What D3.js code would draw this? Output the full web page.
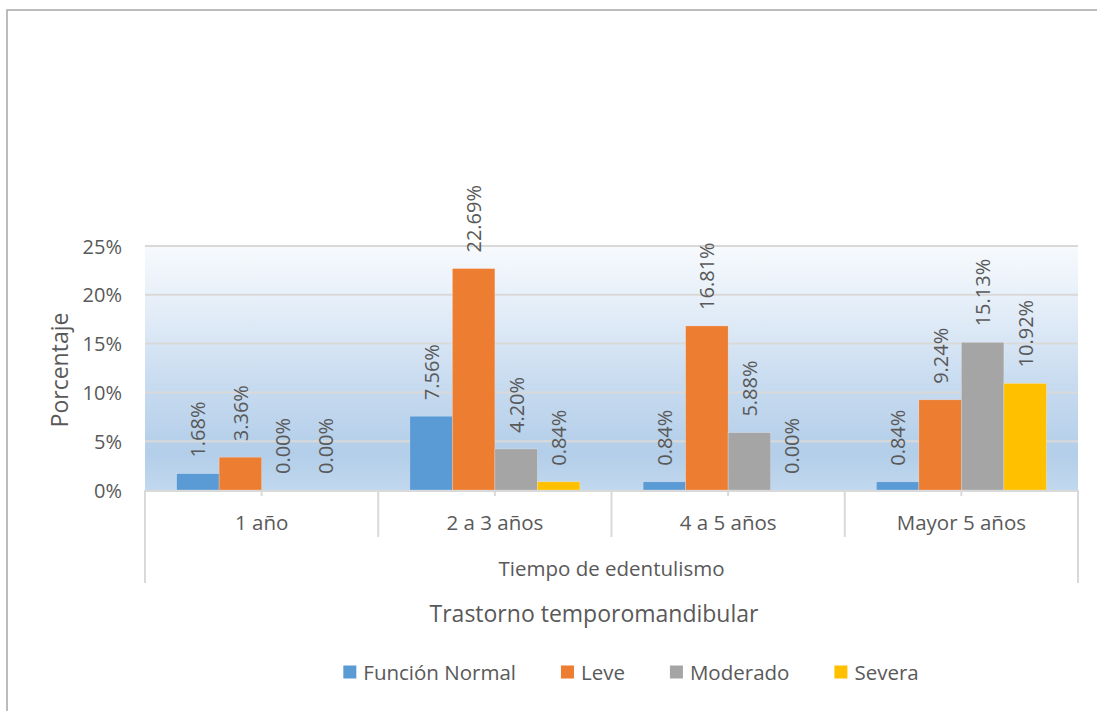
<html>
<head>
<meta charset="utf-8">
<script src="https://d3js.org/d3.v7.min.js"></script>
<style>
  body { margin: 0; background: #fff; }
  text { font-family: "Open Sans", sans-serif; fill: #595959; }
</style>
</head>
<body>
<div id="chart"></div>
<script>
// data
const categories = ["1 año", "2 a 3 años", "4 a 5 años", "Mayor 5 años"];
const seriesNames = ["Función Normal", "Leve", "Moderado", "Severa"];
const funcionNormal = [1.68, 7.56, 0.84, 0.84];
const leve = [3.36, 22.69, 16.81, 9.24];
const moderado = [0.00, 4.20, 5.88, 15.13];
const severa = [0.00, 0.84, 0.00, 10.92];
const yTicks = [0, 5, 10, 15, 20, 25];

const seriesValues = [funcionNormal, leve, moderado, severa];
const colors = ["#5b9bd5", "#ed7d31", "#a5a5a5", "#ffc000"];

const width = 1097, height = 711;
const plot = {left: 145, right: 1078, top: 246, bottom: 490};

const svg = d3.select('#chart').append('svg')
    .attr('width', width)
    .attr('height', height);

// chart border (runs off the right and bottom edge)
svg.append('rect')
    .attr('x', 7).attr('y', 10)
    .attr('width', 1200).attr('height', 800)
    .attr('fill', '#fff')
    .attr('stroke', '#a6a6a6')
    .attr('stroke-width', 1.5);

// plot area gradient
const defs = svg.append('defs');
const grad = defs.append('linearGradient')
    .attr('id', 'bg').attr('x1', 0).attr('y1', 0).attr('x2', 0).attr('y2', 1);
[[0, '#f7fafd'], [0.3, '#e0ebf7'], [0.55, '#c9dcf0'], [0.85, '#b3cee9'], [1, '#c1d8ee']]
  .forEach(s => grad.append('stop').attr('offset', s[0]).attr('stop-color', s[1]));

const x0 = d3.scaleBand()
    .domain(categories)
    .range([plot.left, plot.right])
    .padding(0);

const x1 = d3.scaleBand()
    .domain(seriesNames)
    .range([0, x0.bandwidth()])
    .paddingInner(0)
    .paddingOuter(0.744);

const y = d3.scaleLinear()
    .domain([0, 25])
    .range([plot.bottom, plot.top]);

svg.append('rect')
    .attr('x', plot.left).attr('y', plot.top)
    .attr('width', plot.right - plot.left)
    .attr('height', plot.bottom - plot.top)
    .attr('fill', 'url(#bg)');

// gridlines
svg.append('g')
  .selectAll('line')
  .data(yTicks.filter(d => d > 0))
  .join('line')
    .attr('x1', plot.left).attr('x2', plot.right)
    .attr('y1', d => y(d)).attr('y2', d => y(d))
    .attr('stroke', '#d9d9d9')
    .attr('stroke-width', 2);

// y tick labels
svg.append('g')
  .selectAll('text')
  .data(yTicks)
  .join('text')
    .attr('x', 122)
    .attr('y', d => y(d))
    .attr('text-anchor', 'end')
    .attr('dominant-baseline', 'central')
    .attr('font-size', 20)
    .text(d => d + '%');

// y axis title
svg.append('text')
    .attr('transform', 'translate(59,370) rotate(-90)')
    .attr('text-anchor', 'middle')
    .attr('dominant-baseline', 'central')
    .attr('font-size', 23)
    .text('Porcentaje');

// bars
const groups = svg.append('g')
  .selectAll('g')
  .data(categories)
  .join('g')
    .attr('transform', d => `translate(${x0(d)},0)`);

groups.selectAll('rect')
  .data((c, i) => seriesNames.map((s, j) => ({s, v: seriesValues[j][i], j})))
  .join('rect')
    .attr('x', d => x1(d.s))
    .attr('y', d => y(d.v))
    .attr('width', x1.bandwidth())
    .attr('height', d => y(0) - y(d.v))
    .attr('fill', d => colors[d.j])
    .attr('stroke', '#fff')
    .attr('stroke-opacity', 0.4)
    .attr('stroke-width', 0.6);

// data labels, rotated
groups.selectAll('text')
  .data((c, i) => seriesNames.map((s, j) => ({s, v: seriesValues[j][i], j})))
  .join('text')
    .attr('transform', d => `translate(${x1(d.s) + x1.bandwidth() / 2},${y(d.v) - 16}) rotate(-90)`)
    .attr('text-anchor', 'start')
    .attr('dominant-baseline', 'central')
    .attr('font-size', 20)
    .text(d => d.v.toFixed(2) + '%');

// x axis line and category lines
const axisColor = '#d9d9d9';
svg.append('line')
    .attr('x1', plot.left).attr('x2', plot.right)
    .attr('y1', plot.bottom + 1).attr('y2', plot.bottom + 1)
    .attr('stroke', axisColor).attr('stroke-width', 2);

const bounds = categories.map(c => x0(c)).concat([plot.right]);
svg.append('g')
  .selectAll('line')
  .data(bounds)
  .join('line')
    .attr('x1', d => d).attr('x2', d => d)
    .attr('y1', plot.bottom)
    .attr('y2', (d, i) => (i === 0 || i === bounds.length - 1) ? 583 : 537)
    .attr('stroke', axisColor).attr('stroke-width', 2);

// small ticks at category centres
svg.append('g')
  .selectAll('line')
  .data(categories)
  .join('line')
    .attr('x1', d => x0(d) + x0.bandwidth() / 2)
    .attr('x2', d => x0(d) + x0.bandwidth() / 2)
    .attr('y1', plot.bottom).attr('y2', plot.bottom + 6)
    .attr('stroke', axisColor).attr('stroke-width', 2);

// category labels
svg.append('g')
  .selectAll('text')
  .data(categories)
  .join('text')
    .attr('x', d => x0(d) + x0.bandwidth() / 2)
    .attr('y', 522)
    .attr('text-anchor', 'middle')
    .attr('dominant-baseline', 'central')
    .attr('font-size', 20.5)
    .text(d => d);

svg.append('text')
    .attr('x', (plot.left + plot.right) / 2)
    .attr('y', 568)
    .attr('text-anchor', 'middle')
    .attr('dominant-baseline', 'central')
    .attr('font-size', 20.5)
    .text('Tiempo de edentulismo');

svg.append('text')
    .attr('x', 594)
    .attr('y', 613)
    .attr('text-anchor', 'middle')
    .attr('dominant-baseline', 'central')
    .attr('font-size', 23)
    .text('Trastorno temporomandibular');

// legend
const legend = svg.append('g');
const items = legend.selectAll('g')
  .data(seriesNames)
  .join('g');
items.append('rect')
    .attr('width', 13).attr('height', 13)
    .attr('y', -6.5)
    .attr('fill', (d, i) => colors[i]);
items.append('text')
    .attr('x', 20)
    .attr('dominant-baseline', 'central')
    .attr('font-size', 20.5)
    .text(d => d);

let pos = 0;
items.each(function() {
  const w = 20 + d3.select(this).select('text').node().getComputedTextLength();
  d3.select(this).attr('transform', `translate(${pos},0)`);
  pos += w + 45;
});
const total = pos - 45;
legend.attr('transform', `translate(${631 - total / 2},672)`);
</script>
</body>
</html>
